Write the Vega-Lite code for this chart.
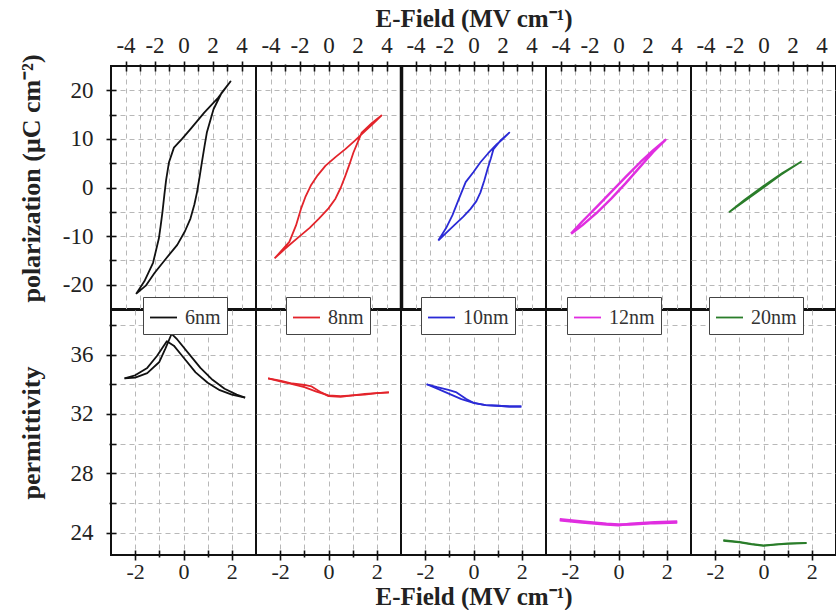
{
  "$schema": "https://vega.github.io/schema/vega-lite/v6.json",
  "background": "white",
  "padding": {"left": 17, "top": 5, "right": 0, "bottom": 0},
  "config": {
    "font": "Liberation Serif",
    "view": {"stroke": "#111", "strokeWidth": 2},
    "axis": {
      "labelFont": "Liberation Serif", "labelFontSize": 23, "labelColor": "#222",
      "titleFont": "Liberation Serif", "titleFontSize": 26, "titleFontWeight": "bold", "titleColor": "#222",
      "tickColor": "#111", "tickWidth": 1.6,
      "gridColor": "#b8b8b8", "gridDash": [5, 4], "gridWidth": 1
    },
    "legend": {
      "symbolType": "stroke", "symbolSize": 729, "symbolStrokeWidth": 2,
      "labelFont": "Liberation Serif", "labelFontSize": 20, "labelColor": "#333",
      "strokeColor": "#444", "fillColor": "white", "padding": 6, "labelOffset": 7
    },
    "line": {"strokeWidth": 1.8, "strokeJoin": "round"}
  },
  "datasets": {
    "pol": [
      {"film": "6nm", "i": 0, "E": -3.27, "P": -21.9},
      {"film": "6nm", "i": 1, "E": -2.6, "P": -20.2},
      {"film": "6nm", "i": 2, "E": -2.0, "P": -17.6},
      {"film": "6nm", "i": 3, "E": -1.2, "P": -14.6},
      {"film": "6nm", "i": 4, "E": -0.43, "P": -11.8},
      {"film": "6nm", "i": 5, "E": 0.1, "P": -9.0},
      {"film": "6nm", "i": 6, "E": 0.48, "P": -6.4},
      {"film": "6nm", "i": 7, "E": 0.75, "P": -3.5},
      {"film": "6nm", "i": 8, "E": 0.93, "P": -1.0},
      {"film": "6nm", "i": 9, "E": 1.1, "P": 2.0},
      {"film": "6nm", "i": 10, "E": 1.27, "P": 5.2},
      {"film": "6nm", "i": 11, "E": 1.45, "P": 8.5},
      {"film": "6nm", "i": 12, "E": 1.61, "P": 11.3},
      {"film": "6nm", "i": 13, "E": 2.07, "P": 16.1},
      {"film": "6nm", "i": 14, "E": 2.63, "P": 19.5},
      {"film": "6nm", "i": 15, "E": 3.24, "P": 21.8},
      {"film": "6nm", "i": 16, "E": 2.4, "P": 18.5},
      {"film": "6nm", "i": 17, "E": 1.43, "P": 15.4},
      {"film": "6nm", "i": 18, "E": 0.48, "P": 12.0},
      {"film": "6nm", "i": 19, "E": -0.1, "P": 10.0},
      {"film": "6nm", "i": 20, "E": -0.66, "P": 8.2},
      {"film": "6nm", "i": 21, "E": -1.0, "P": 5.2},
      {"film": "6nm", "i": 22, "E": -1.2, "P": 1.5},
      {"film": "6nm", "i": 23, "E": -1.32, "P": -1.5},
      {"film": "6nm", "i": 24, "E": -1.45, "P": -5.0},
      {"film": "6nm", "i": 25, "E": -1.58, "P": -8.0},
      {"film": "6nm", "i": 26, "E": -1.7, "P": -10.5},
      {"film": "6nm", "i": 27, "E": -2.1, "P": -15.5},
      {"film": "6nm", "i": 28, "E": -2.7, "P": -19.3},
      {"film": "6nm", "i": 29, "E": -3.27, "P": -21.9},

      {"film": "8nm", "i": 0, "E": -3.72, "P": -14.6},
      {"film": "8nm", "i": 1, "E": -3.0, "P": -12.6},
      {"film": "8nm", "i": 2, "E": -2.02, "P": -10.1},
      {"film": "8nm", "i": 3, "E": -1.3, "P": -8.3},
      {"film": "8nm", "i": 4, "E": -0.66, "P": -6.4},
      {"film": "8nm", "i": 5, "E": 0.0, "P": -4.3},
      {"film": "8nm", "i": 6, "E": 0.48, "P": -2.3},
      {"film": "8nm", "i": 7, "E": 0.85, "P": 0.0},
      {"film": "8nm", "i": 8, "E": 1.16, "P": 2.4},
      {"film": "8nm", "i": 9, "E": 1.45, "P": 4.8},
      {"film": "8nm", "i": 10, "E": 1.72, "P": 7.2},
      {"film": "8nm", "i": 11, "E": 2.29, "P": 11.3},
      {"film": "8nm", "i": 12, "E": 3.0, "P": 13.3},
      {"film": "8nm", "i": 13, "E": 3.65, "P": 14.8},
      {"film": "8nm", "i": 14, "E": 3.1, "P": 13.2},
      {"film": "8nm", "i": 15, "E": 2.52, "P": 11.6},
      {"film": "8nm", "i": 16, "E": 1.8, "P": 9.6},
      {"film": "8nm", "i": 17, "E": 1.16, "P": 7.9},
      {"film": "8nm", "i": 18, "E": 0.5, "P": 6.3},
      {"film": "8nm", "i": 19, "E": -0.2, "P": 4.5},
      {"film": "8nm", "i": 20, "E": -0.75, "P": 2.5},
      {"film": "8nm", "i": 21, "E": -1.22, "P": 0.4},
      {"film": "8nm", "i": 22, "E": -1.6, "P": -2.0},
      {"film": "8nm", "i": 23, "E": -1.9, "P": -4.4},
      {"film": "8nm", "i": 24, "E": -2.24, "P": -7.8},
      {"film": "8nm", "i": 25, "E": -2.7, "P": -11.2},
      {"film": "8nm", "i": 26, "E": -3.72, "P": -14.6},

      {"film": "10nm", "i": 0, "E": -2.43, "P": -10.9},
      {"film": "10nm", "i": 1, "E": -1.9, "P": -9.4},
      {"film": "10nm", "i": 2, "E": -1.34, "P": -7.8},
      {"film": "10nm", "i": 3, "E": -0.7, "P": -6.0},
      {"film": "10nm", "i": 4, "E": -0.2, "P": -4.4},
      {"film": "10nm", "i": 5, "E": 0.2, "P": -2.8},
      {"film": "10nm", "i": 6, "E": 0.48, "P": -1.0},
      {"film": "10nm", "i": 7, "E": 0.75, "P": 1.5},
      {"film": "10nm", "i": 8, "E": 0.97, "P": 3.8},
      {"film": "10nm", "i": 9, "E": 1.2, "P": 6.0},
      {"film": "10nm", "i": 10, "E": 1.38, "P": 7.9},
      {"film": "10nm", "i": 11, "E": 1.9, "P": 9.8},
      {"film": "10nm", "i": 12, "E": 2.47, "P": 11.3},
      {"film": "10nm", "i": 13, "E": 2.0, "P": 9.9},
      {"film": "10nm", "i": 14, "E": 1.61, "P": 8.9},
      {"film": "10nm", "i": 15, "E": 1.0, "P": 7.0},
      {"film": "10nm", "i": 16, "E": 0.48, "P": 5.2},
      {"film": "10nm", "i": 17, "E": 0.0, "P": 3.2},
      {"film": "10nm", "i": 18, "E": -0.54, "P": 1.1},
      {"film": "10nm", "i": 19, "E": -1.0, "P": -2.3},
      {"film": "10nm", "i": 20, "E": -1.45, "P": -5.7},
      {"film": "10nm", "i": 21, "E": -1.9, "P": -8.4},
      {"film": "10nm", "i": 22, "E": -2.43, "P": -10.9},

      {"film": "12nm", "i": 0, "E": -3.27, "P": -9.5},
      {"film": "12nm", "i": 1, "E": -2.5, "P": -7.8},
      {"film": "12nm", "i": 2, "E": -1.5, "P": -5.2},
      {"film": "12nm", "i": 3, "E": -0.5, "P": -2.3},
      {"film": "12nm", "i": 4, "E": 0.5, "P": 0.9},
      {"film": "12nm", "i": 5, "E": 1.5, "P": 4.3},
      {"film": "12nm", "i": 6, "E": 2.4, "P": 7.3},
      {"film": "12nm", "i": 7, "E": 3.24, "P": 9.8},
      {"film": "12nm", "i": 8, "E": 2.4, "P": 7.7},
      {"film": "12nm", "i": 9, "E": 1.5, "P": 5.2},
      {"film": "12nm", "i": 10, "E": 0.5, "P": 2.2},
      {"film": "12nm", "i": 11, "E": -0.5, "P": -0.9},
      {"film": "12nm", "i": 12, "E": -1.5, "P": -4.0},
      {"film": "12nm", "i": 13, "E": -2.5, "P": -7.0},
      {"film": "12nm", "i": 14, "E": -3.27, "P": -9.5},

      {"film": "20nm", "i": 0, "E": -2.38, "P": -5.1},
      {"film": "20nm", "i": 1, "E": -1.2, "P": -2.6},
      {"film": "20nm", "i": 2, "E": 0.0, "P": 0.0},
      {"film": "20nm", "i": 3, "E": 1.2, "P": 2.6},
      {"film": "20nm", "i": 4, "E": 2.59, "P": 5.3},
      {"film": "20nm", "i": 5, "E": 1.3, "P": 3.0},
      {"film": "20nm", "i": 6, "E": 0.0, "P": 0.3},
      {"film": "20nm", "i": 7, "E": -1.3, "P": -2.5},
      {"film": "20nm", "i": 8, "E": -2.38, "P": -5.1}
    ],
    "perm": [
      {"film": "6nm", "sweep": "up", "E": -2.44, "eps": 34.4},
      {"film": "6nm", "sweep": "up", "E": -2.0, "eps": 34.45},
      {"film": "6nm", "sweep": "up", "E": -1.5, "eps": 34.75},
      {"film": "6nm", "sweep": "up", "E": -1.0, "eps": 35.5},
      {"film": "6nm", "sweep": "up", "E": -0.75, "eps": 36.4},
      {"film": "6nm", "sweep": "up", "E": -0.49, "eps": 37.4},
      {"film": "6nm", "sweep": "up", "E": -0.25, "eps": 37.0},
      {"film": "6nm", "sweep": "up", "E": 0.2, "eps": 36.1},
      {"film": "6nm", "sweep": "up", "E": 0.7, "eps": 35.1},
      {"film": "6nm", "sweep": "up", "E": 1.2, "eps": 34.3},
      {"film": "6nm", "sweep": "up", "E": 1.7, "eps": 33.7},
      {"film": "6nm", "sweep": "up", "E": 2.2, "eps": 33.3},
      {"film": "6nm", "sweep": "up", "E": 2.55, "eps": 33.1},
      {"film": "6nm", "sweep": "down", "E": -2.44, "eps": 34.4},
      {"film": "6nm", "sweep": "down", "E": -2.0, "eps": 34.6},
      {"film": "6nm", "sweep": "down", "E": -1.5, "eps": 35.1},
      {"film": "6nm", "sweep": "down", "E": -1.1, "eps": 35.9},
      {"film": "6nm", "sweep": "down", "E": -0.69, "eps": 36.9},
      {"film": "6nm", "sweep": "down", "E": -0.4, "eps": 36.6},
      {"film": "6nm", "sweep": "down", "E": 0.0, "eps": 35.8},
      {"film": "6nm", "sweep": "down", "E": 0.5, "eps": 34.8},
      {"film": "6nm", "sweep": "down", "E": 1.0, "eps": 34.1},
      {"film": "6nm", "sweep": "down", "E": 1.5, "eps": 33.6},
      {"film": "6nm", "sweep": "down", "E": 2.0, "eps": 33.3},
      {"film": "6nm", "sweep": "down", "E": 2.55, "eps": 33.1},

      {"film": "8nm", "sweep": "up", "E": -2.5, "eps": 34.4},
      {"film": "8nm", "sweep": "up", "E": -2.0, "eps": 34.2},
      {"film": "8nm", "sweep": "up", "E": -1.5, "eps": 34.0},
      {"film": "8nm", "sweep": "up", "E": -1.0, "eps": 33.8},
      {"film": "8nm", "sweep": "up", "E": -0.5, "eps": 33.5},
      {"film": "8nm", "sweep": "up", "E": 0.0, "eps": 33.25},
      {"film": "8nm", "sweep": "up", "E": 0.5, "eps": 33.2},
      {"film": "8nm", "sweep": "up", "E": 1.0, "eps": 33.25},
      {"film": "8nm", "sweep": "up", "E": 1.5, "eps": 33.3},
      {"film": "8nm", "sweep": "up", "E": 2.0, "eps": 33.4},
      {"film": "8nm", "sweep": "up", "E": 2.5, "eps": 33.45},
      {"film": "8nm", "sweep": "down", "E": -2.5, "eps": 34.4},
      {"film": "8nm", "sweep": "down", "E": -2.0, "eps": 34.25},
      {"film": "8nm", "sweep": "down", "E": -1.5, "eps": 34.05},
      {"film": "8nm", "sweep": "down", "E": -1.0, "eps": 33.95},
      {"film": "8nm", "sweep": "down", "E": -0.7, "eps": 33.85},
      {"film": "8nm", "sweep": "down", "E": -0.3, "eps": 33.45},
      {"film": "8nm", "sweep": "down", "E": 0.0, "eps": 33.2},
      {"film": "8nm", "sweep": "down", "E": 0.5, "eps": 33.15},
      {"film": "8nm", "sweep": "down", "E": 1.0, "eps": 33.25},
      {"film": "8nm", "sweep": "down", "E": 1.5, "eps": 33.35},
      {"film": "8nm", "sweep": "down", "E": 2.0, "eps": 33.4},
      {"film": "8nm", "sweep": "down", "E": 2.5, "eps": 33.45},

      {"film": "10nm", "sweep": "up", "E": -1.94, "eps": 34.0},
      {"film": "10nm", "sweep": "up", "E": -1.5, "eps": 33.8},
      {"film": "10nm", "sweep": "up", "E": -1.0, "eps": 33.6},
      {"film": "10nm", "sweep": "up", "E": -0.7, "eps": 33.45},
      {"film": "10nm", "sweep": "up", "E": -0.3, "eps": 33.0},
      {"film": "10nm", "sweep": "up", "E": 0.0, "eps": 32.75},
      {"film": "10nm", "sweep": "up", "E": 0.5, "eps": 32.6},
      {"film": "10nm", "sweep": "up", "E": 1.0, "eps": 32.55},
      {"film": "10nm", "sweep": "up", "E": 1.5, "eps": 32.5},
      {"film": "10nm", "sweep": "up", "E": 1.98, "eps": 32.5},
      {"film": "10nm", "sweep": "down", "E": -1.94, "eps": 34.0},
      {"film": "10nm", "sweep": "down", "E": -1.5, "eps": 33.7},
      {"film": "10nm", "sweep": "down", "E": -1.0, "eps": 33.35},
      {"film": "10nm", "sweep": "down", "E": -0.5, "eps": 33.0},
      {"film": "10nm", "sweep": "down", "E": 0.0, "eps": 32.75},
      {"film": "10nm", "sweep": "down", "E": 0.5, "eps": 32.6},
      {"film": "10nm", "sweep": "down", "E": 1.0, "eps": 32.55},
      {"film": "10nm", "sweep": "down", "E": 1.5, "eps": 32.5},
      {"film": "10nm", "sweep": "down", "E": 1.98, "eps": 32.5},

      {"film": "12nm", "sweep": "up", "E": -2.43, "eps": 24.9},
      {"film": "12nm", "sweep": "up", "E": -1.5, "eps": 24.75},
      {"film": "12nm", "sweep": "up", "E": -0.5, "eps": 24.6},
      {"film": "12nm", "sweep": "up", "E": 0.0, "eps": 24.55},
      {"film": "12nm", "sweep": "up", "E": 0.5, "eps": 24.55},
      {"film": "12nm", "sweep": "up", "E": 1.5, "eps": 24.65},
      {"film": "12nm", "sweep": "up", "E": 2.43, "eps": 24.7},
      {"film": "12nm", "sweep": "down", "E": -2.43, "eps": 24.85},
      {"film": "12nm", "sweep": "down", "E": -1.5, "eps": 24.7},
      {"film": "12nm", "sweep": "down", "E": -0.5, "eps": 24.55},
      {"film": "12nm", "sweep": "down", "E": 0.0, "eps": 24.5},
      {"film": "12nm", "sweep": "down", "E": 0.5, "eps": 24.6},
      {"film": "12nm", "sweep": "down", "E": 1.5, "eps": 24.7},
      {"film": "12nm", "sweep": "down", "E": 2.43, "eps": 24.75},

      {"film": "20nm", "sweep": "up", "E": -1.66, "eps": 23.46},
      {"film": "20nm", "sweep": "up", "E": -1.0, "eps": 23.35},
      {"film": "20nm", "sweep": "up", "E": -0.5, "eps": 23.22},
      {"film": "20nm", "sweep": "up", "E": 0.0, "eps": 23.12},
      {"film": "20nm", "sweep": "up", "E": 0.5, "eps": 23.2},
      {"film": "20nm", "sweep": "up", "E": 1.0, "eps": 23.25},
      {"film": "20nm", "sweep": "up", "E": 1.78, "eps": 23.3},
      {"film": "20nm", "sweep": "down", "E": -1.66, "eps": 23.5},
      {"film": "20nm", "sweep": "down", "E": -1.0, "eps": 23.38},
      {"film": "20nm", "sweep": "down", "E": -0.5, "eps": 23.25},
      {"film": "20nm", "sweep": "down", "E": 0.0, "eps": 23.15},
      {"film": "20nm", "sweep": "down", "E": 0.5, "eps": 23.22},
      {"film": "20nm", "sweep": "down", "E": 1.0, "eps": 23.28},
      {"film": "20nm", "sweep": "down", "E": 1.78, "eps": 23.32}
    ]
  },
  "spacing": -16,
  "resolve": {"scale": {"x": "independent", "y": "independent", "color": "independent"}, "legend": {"color": "independent"}},
  "vconcat": [
    {
      "spacing": 0,
      "bounds": "flush",
      "resolve": {"scale": {"x": "independent", "y": "independent", "color": "independent"}, "legend": {"color": "independent"}},
      "hconcat": [
        {
          "width": 145, "height": 243,
          "data": {"name": "pol"},
          "transform": [{"filter": "datum.film === '6nm'"}],
          "mark": {"type": "line"},
          "encoding": {
            "x": {"field": "E", "type": "quantitative", "scale": {"domain": [-5, 5], "nice": false},
              "axis": {"orient": "top", "title": null, "values": [-4, -3, -2, -1, 0, 1, 2, 3, 4], "labelExpr": "datum.value % 2 === 0 ? '' + datum.value : ''", "offset": -5, "tickSize": {"condition": {"test": "datum.value % 2 === 0", "value": 10}, "value": 7}, "labelPadding": 4, "domain": false, "grid": true}},
            "y": {"field": "P", "type": "quantitative", "scale": {"domain": [-25, 25], "nice": false},
              "axis": {"title": "polarization (μC cm⁻²)", "titleY": 112, "values": [-20, -15, -10, -5, 0, 5, 10, 15, 20], "labelExpr": "datum.value % 10 === 0 ? '' + datum.value : ''", "offset": -5, "tickSize": {"condition": {"test": "datum.value % 10 === 0", "value": 10}, "value": 7}, "labelPadding": 13, "domain": false, "grid": true, "titlePadding": 18}},
            "order": {"field": "i", "type": "quantitative"},
            "color": {"field": "film", "type": "nominal", "scale": {"domain": ["6nm"], "range": ["#111111"]}, "legend": null}
          }
        },
        {
          "width": 145, "height": 243,
          "data": {"name": "pol"},
          "transform": [{"filter": "datum.film === '8nm'"}],
          "mark": {"type": "line"},
          "encoding": {
            "x": {"field": "E", "type": "quantitative", "scale": {"domain": [-5, 5], "nice": false},
              "axis": {"orient": "top", "title": null, "values": [-4, -3, -2, -1, 0, 1, 2, 3, 4], "labelExpr": "datum.value % 2 === 0 ? '' + datum.value : ''", "offset": -5, "tickSize": {"condition": {"test": "datum.value % 2 === 0", "value": 10}, "value": 7}, "labelPadding": 4, "domain": false, "grid": true}},
            "y": {"field": "P", "type": "quantitative", "scale": {"domain": [-25, 25], "nice": false},
              "axis": {"title": null, "values": [-20, -15, -10, -5, 0, 5, 10, 15, 20], "labels": false, "ticks": false, "domain": false, "grid": true}},
            "order": {"field": "i", "type": "quantitative"},
            "color": {"field": "film", "type": "nominal", "scale": {"domain": ["8nm"], "range": ["#e3242b"]}, "legend": null}
          }
        },
        {
          "width": 145, "height": 243,
          "data": {"name": "pol"},
          "transform": [{"filter": "datum.film === '10nm'"}],
          "mark": {"type": "line"},
          "encoding": {
            "x": {"field": "E", "type": "quantitative", "scale": {"domain": [-5, 5], "nice": false},
              "axis": {"orient": "top", "title": "E-Field (MV cm⁻¹)", "titleFontSize": 25, "titlePadding": 3, "values": [-4, -3, -2, -1, 0, 1, 2, 3, 4], "labelExpr": "datum.value % 2 === 0 ? '' + datum.value : ''", "offset": -5, "tickSize": {"condition": {"test": "datum.value % 2 === 0", "value": 10}, "value": 7}, "labelPadding": 4, "domain": false, "grid": true}},
            "y": {"field": "P", "type": "quantitative", "scale": {"domain": [-25, 25], "nice": false},
              "axis": {"title": null, "values": [-20, -15, -10, -5, 0, 5, 10, 15, 20], "labels": false, "ticks": false, "domain": true, "domainColor": "#111", "domainWidth": 3.5, "grid": true}},
            "order": {"field": "i", "type": "quantitative"},
            "color": {"field": "film", "type": "nominal", "scale": {"domain": ["10nm"], "range": ["#2a2ad6"]}, "legend": null}
          }
        },
        {
          "width": 145, "height": 243,
          "data": {"name": "pol"},
          "transform": [{"filter": "datum.film === '12nm'"}],
          "mark": {"type": "line", "strokeWidth": 2.4},
          "encoding": {
            "x": {"field": "E", "type": "quantitative", "scale": {"domain": [-5, 5], "nice": false},
              "axis": {"orient": "top", "title": null, "values": [-4, -3, -2, -1, 0, 1, 2, 3, 4], "labelExpr": "datum.value % 2 === 0 ? '' + datum.value : ''", "offset": -5, "tickSize": {"condition": {"test": "datum.value % 2 === 0", "value": 10}, "value": 7}, "labelPadding": 4, "domain": false, "grid": true}},
            "y": {"field": "P", "type": "quantitative", "scale": {"domain": [-25, 25], "nice": false},
              "axis": {"title": null, "values": [-20, -15, -10, -5, 0, 5, 10, 15, 20], "labels": false, "ticks": false, "domain": false, "grid": true}},
            "order": {"field": "i", "type": "quantitative"},
            "color": {"field": "film", "type": "nominal", "scale": {"domain": ["12nm"], "range": ["#e02ee0"]}, "legend": null}
          }
        },
        {
          "width": 145, "height": 243,
          "data": {"name": "pol"},
          "transform": [{"filter": "datum.film === '20nm'"}],
          "mark": {"type": "line"},
          "encoding": {
            "x": {"field": "E", "type": "quantitative", "scale": {"domain": [-5, 5], "nice": false},
              "axis": {"orient": "top", "title": null, "values": [-4, -3, -2, -1, 0, 1, 2, 3, 4], "labelExpr": "datum.value % 2 === 0 ? '' + datum.value : ''", "offset": -5, "tickSize": {"condition": {"test": "datum.value % 2 === 0", "value": 10}, "value": 7}, "labelPadding": 4, "domain": false, "grid": true}},
            "y": {"field": "P", "type": "quantitative", "scale": {"domain": [-25, 25], "nice": false},
              "axis": {"title": null, "values": [-20, -15, -10, -5, 0, 5, 10, 15, 20], "labels": false, "ticks": false, "domain": false, "grid": true}},
            "order": {"field": "i", "type": "quantitative"},
            "color": {"field": "film", "type": "nominal", "scale": {"domain": ["20nm"], "range": ["#2a7d2a"]}, "legend": null}
          }
        }
      ]
    },
    {
      "spacing": 0,
      "bounds": "flush",
      "resolve": {"scale": {"x": "independent", "y": "independent", "color": "independent"}, "legend": {"color": "independent"}},
      "hconcat": [
        {
          "width": 145, "height": 245,
          "data": {"name": "perm"},
          "transform": [{"filter": "datum.film === '6nm'"}],
          "mark": {"type": "line"},
          "encoding": {
            "x": {"field": "E", "type": "quantitative", "scale": {"domain": [-3, 3], "nice": false},
              "axis": {"orient": "bottom", "title": null, "labelFontSize": 22, "values": [-2, -1, 0, 1, 2], "labelExpr": "datum.value % 2 === 0 ? '' + datum.value : ''", "offset": -5, "tickSize": {"condition": {"test": "datum.value % 2 === 0", "value": 10}, "value": 7}, "labelPadding": 1, "domain": false, "grid": true}},
            "y": {"field": "eps", "type": "quantitative", "scale": {"domain": [22.5, 39], "nice": false, "zero": false},
              "axis": {"title": "permittivity", "values": [24, 26, 28, 30, 32, 34, 36, 38], "labelExpr": "datum.value % 4 === 0 ? '' + datum.value : ''", "offset": -5, "tickSize": {"condition": {"test": "datum.value % 4 === 0", "value": 10}, "value": 7}, "labelPadding": 13, "domain": false, "grid": true, "titlePadding": 26}},
            "detail": {"field": "sweep", "type": "nominal"},
            "color": {"field": "film", "type": "nominal", "scale": {"domain": ["6nm"], "range": ["#111111"]}, "legend": {"title": null, "orient": "none", "legendX": 32, "legendY": -13}}
          }
        },
        {
          "width": 145, "height": 245,
          "data": {"name": "perm"},
          "transform": [{"filter": "datum.film === '8nm'"}],
          "mark": {"type": "line"},
          "encoding": {
            "x": {"field": "E", "type": "quantitative", "scale": {"domain": [-3, 3], "nice": false},
              "axis": {"orient": "bottom", "title": null, "labelFontSize": 22, "values": [-2, -1, 0, 1, 2], "labelExpr": "datum.value % 2 === 0 ? '' + datum.value : ''", "offset": -5, "tickSize": {"condition": {"test": "datum.value % 2 === 0", "value": 10}, "value": 7}, "labelPadding": 1, "domain": false, "grid": true}},
            "y": {"field": "eps", "type": "quantitative", "scale": {"domain": [22.5, 39], "nice": false, "zero": false},
              "axis": {"title": null, "values": [24, 26, 28, 30, 32, 34, 36, 38], "labels": false, "ticks": false, "domain": false, "grid": true}},
            "detail": {"field": "sweep", "type": "nominal"},
            "color": {"field": "film", "type": "nominal", "scale": {"domain": ["8nm"], "range": ["#e3242b"]}, "legend": {"title": null, "orient": "none", "legendX": 30, "legendY": -13}}
          }
        },
        {
          "width": 145, "height": 245,
          "data": {"name": "perm"},
          "transform": [{"filter": "datum.film === '10nm'"}],
          "mark": {"type": "line"},
          "encoding": {
            "x": {"field": "E", "type": "quantitative", "scale": {"domain": [-3, 3], "nice": false},
              "axis": {"orient": "bottom", "title": "E-Field (MV cm⁻¹)", "titleFontSize": 25, "titlePadding": 2, "labelFontSize": 22, "values": [-2, -1, 0, 1, 2], "labelExpr": "datum.value % 2 === 0 ? '' + datum.value : ''", "offset": -5, "tickSize": {"condition": {"test": "datum.value % 2 === 0", "value": 10}, "value": 7}, "labelPadding": 1, "domain": false, "grid": true}},
            "y": {"field": "eps", "type": "quantitative", "scale": {"domain": [22.5, 39], "nice": false, "zero": false},
              "axis": {"title": null, "values": [24, 26, 28, 30, 32, 34, 36, 38], "labels": false, "ticks": false, "domain": false, "grid": true}},
            "detail": {"field": "sweep", "type": "nominal"},
            "color": {"field": "film", "type": "nominal", "scale": {"domain": ["10nm"], "range": ["#2a2ad6"]}, "legend": {"title": null, "orient": "none", "legendX": 20, "legendY": -13}}
          }
        },
        {
          "width": 145, "height": 245,
          "data": {"name": "perm"},
          "transform": [{"filter": "datum.film === '12nm'"}],
          "mark": {"type": "line", "strokeWidth": 2.6},
          "encoding": {
            "x": {"field": "E", "type": "quantitative", "scale": {"domain": [-3, 3], "nice": false},
              "axis": {"orient": "bottom", "title": null, "labelFontSize": 22, "values": [-2, -1, 0, 1, 2], "labelExpr": "datum.value % 2 === 0 ? '' + datum.value : ''", "offset": -5, "tickSize": {"condition": {"test": "datum.value % 2 === 0", "value": 10}, "value": 7}, "labelPadding": 1, "domain": false, "grid": true}},
            "y": {"field": "eps", "type": "quantitative", "scale": {"domain": [22.5, 39], "nice": false, "zero": false},
              "axis": {"title": null, "values": [24, 26, 28, 30, 32, 34, 36, 38], "labels": false, "ticks": false, "domain": false, "grid": true}},
            "detail": {"field": "sweep", "type": "nominal"},
            "color": {"field": "film", "type": "nominal", "scale": {"domain": ["12nm"], "range": ["#e02ee0"]}, "legend": {"title": null, "orient": "none", "legendX": 21, "legendY": -13}}
          }
        },
        {
          "width": 145, "height": 245,
          "data": {"name": "perm"},
          "transform": [{"filter": "datum.film === '20nm'"}],
          "mark": {"type": "line"},
          "encoding": {
            "x": {"field": "E", "type": "quantitative", "scale": {"domain": [-3, 3], "nice": false},
              "axis": {"orient": "bottom", "title": null, "labelFontSize": 22, "values": [-2, -1, 0, 1, 2], "labelExpr": "datum.value % 2 === 0 ? '' + datum.value : ''", "offset": -5, "tickSize": {"condition": {"test": "datum.value % 2 === 0", "value": 10}, "value": 7}, "labelPadding": 1, "domain": false, "grid": true}},
            "y": {"field": "eps", "type": "quantitative", "scale": {"domain": [22.5, 39], "nice": false, "zero": false},
              "axis": {"title": null, "values": [24, 26, 28, 30, 32, 34, 36, 38], "labels": false, "ticks": false, "domain": false, "grid": true}},
            "detail": {"field": "sweep", "type": "nominal"},
            "color": {"field": "film", "type": "nominal", "scale": {"domain": ["20nm"], "range": ["#2a7d2a"]}, "legend": {"title": null, "orient": "none", "legendX": 18, "legendY": -13}}
          }
        }
      ]
    }
  ]
}
